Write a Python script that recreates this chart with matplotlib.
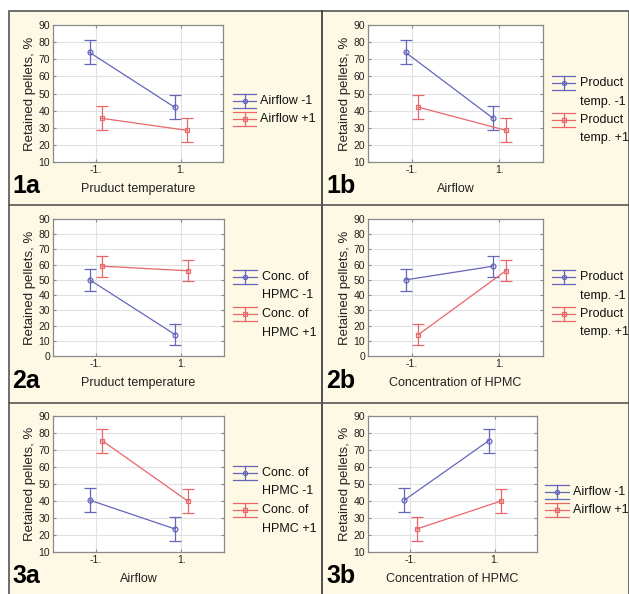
import matplotlib.pyplot as plt
from matplotlib.patches import Rectangle

plt.rcParams['font.family'] = ['Liberation Sans', 'DejaVu Sans']

# factor levels on the x axis
levels = [-1, 1]
tick_labels = ['-1.', '1.']

# means (blue series, red series)
m1a_blue = [74, 42]
m1a_red = [35.5, 28.5]
m1b_blue = [74, 35.5]
m1b_red = [42, 28.5]
m2a_blue = [50, 14]
m2a_red = [59, 56]
m2b_blue = [50, 59]
m2b_red = [14, 56]
m3a_blue = [40.5, 23.5]
m3a_red = [75.5, 40]
m3b_blue = [40.5, 75.5]
m3b_red = [23.5, 40]
# half width of the error bars
ci = [7, 7]

names = ['1a', '1b', '2a', '2b', '3a', '3b']
xlabels = ['Pruduct temperature', 'Airflow', 'Pruduct temperature',
           'Concentration of HPMC', 'Airflow', 'Concentration of HPMC']
legends = [['Airflow -1', 'Airflow +1'],
           ['Product\ntemp. -1', 'Product\ntemp. +1'],
           ['Conc. of\nHPMC -1', 'Conc. of\nHPMC +1'],
           ['Product\ntemp. -1', 'Product\ntemp. +1'],
           ['Conc. of\nHPMC -1', 'Conc. of\nHPMC +1'],
           ['Airflow -1', 'Airflow +1']]
blue_means = [m1a_blue, m1b_blue, m2a_blue, m2b_blue, m3a_blue, m3b_blue]
red_means = [m1a_red, m1b_red, m2a_red, m2b_red, m3a_red, m3b_red]
ymins = [10, 10, 0, 0, 10, 10]

BLUE = '#6466ba'
RED = '#e8676b'
CREAM = '#fef9e4'
W, H = 629, 594

# layout in pixels: axes box (l, t, r, b), label pos, legend (handle x0, x1, text x, first y)
boxes = [(53, 25, 223, 162), (368, 25, 543, 162),
         (53, 219, 224, 356), (368, 219, 543, 356),
         (53, 416, 224, 552), (368, 416, 537, 552)]
tags = [(12, 193), (326, 193), (12, 388), (326, 388), (12, 583), (326, 583)]
leg = [(233, 256, 260, 101), (552, 575, 580, 83),
       (233, 257, 262, 277), (552, 575, 580, 277),
       (233, 257, 262, 473), (545, 569, 573, 492)]

fig = plt.figure(figsize=(W / 100, H / 100), dpi=100)
fig.patch.set_facecolor('white')

# overlay in pixel coordinates for the panel frames and legends
bg = fig.add_axes([0, 0, 1, 1], zorder=0)
bg.set_xlim(0, W)
bg.set_ylim(H, 0)
bg.axis('off')
bg.add_patch(Rectangle((9, 11), W - 9, H - 11 + 5, facecolor=CREAM,
                       edgecolor='#555555', lw=1.2))
bg.plot([322, 322], [11, H], color='#333333', lw=1.2)
bg.plot([9, W], [205, 205], color='#555555', lw=1.2)
bg.plot([9, W], [403, 403], color='#555555', lw=1.2)

for i in range(6):
    l, t, r, b = boxes[i]
    ax = fig.add_axes([l / W, 1 - b / H, (r - l) / W, (b - t) / H], zorder=2)
    ax.set_facecolor('white')
    xb = [x - 0.14 for x in levels]
    xr = [x + 0.15 for x in levels]
    ax.errorbar(xb, blue_means[i], yerr=ci, color=BLUE, lw=0.9, capsize=4,
                capthick=0.9, marker='o', ms=3.5, mfc='none', mew=0.9)
    ax.errorbar(xr, red_means[i], yerr=ci, color=RED, lw=0.9, capsize=4,
                capthick=0.9, marker='s', ms=3.5, mfc='none', mew=0.9)
    ax.set_xlim(-2, 2)
    ax.set_ylim(ymins[i], 90)
    ax.set_yticks(range(ymins[i], 91, 10))
    ax.set_xticks(levels)
    ax.set_xticklabels(tick_labels)
    ax.grid(True, color='#e2e2e2', lw=0.8)
    ax.set_axisbelow(True)
    for s in ax.spines.values():
        s.set_color('#8a8a8a')
        s.set_linewidth(0.9)
    ax.tick_params(labelsize=7.5, length=2, color='#8a8a8a', pad=2,
                   direction='in', right=True, top=True, labelcolor='#222222')
    ax.set_ylabel('Retained pellets, %', fontsize=9.5, labelpad=2, color='#222222')
    ax.set_xlabel(xlabels[i], fontsize=9, labelpad=6, color='#222222')

    # panel tag
    bg.text(tags[i][0], tags[i][1], names[i], fontsize=18, fontweight='bold',
            va='baseline', ha='left')

    # legend with Statistica style handles
    hx0, hx1, tx, y0 = leg[i]
    two_line = '\n' in legends[i][0]
    step = 37 if two_line else 18
    for j, (lab, col, mk) in enumerate(zip(legends[i], [BLUE, RED], ['o', 's'])):
        yc = y0 + j * step
        xm = (hx0 + hx1) / 2
        bg.plot([hx0, hx1], [yc - 7, yc - 7], color=col, lw=0.9)
        bg.plot([hx0, hx1], [yc + 7, yc + 7], color=col, lw=0.9)
        bg.plot([hx0, hx1], [yc, yc], color=col, lw=0.9)
        bg.plot([xm, xm], [yc - 7, yc + 7], color=col, lw=0.9)
        bg.plot([xm], [yc], marker=mk, ms=3, color=col, mfc='none', mew=0.9)
        for k, line in enumerate(lab.split('\n')):
            bg.text(tx, yc + k * 18.5, line, fontsize=9, va='center',
                    ha='left', color='#111111')

fig.savefig('out.png', dpi=100)
